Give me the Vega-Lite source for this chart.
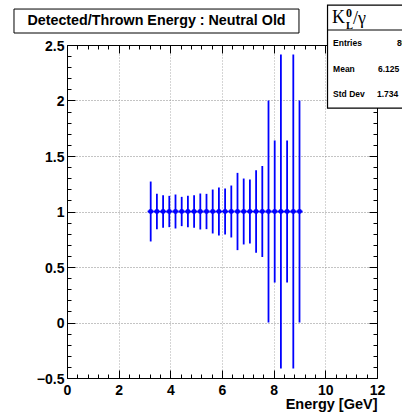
{
  "$schema": "https://vega.github.io/schema/vega-lite/v6.json",
  "width": 310,
  "height": 333,
  "autosize": {"type": "none"},
  "padding": {"left": 67, "top": 45, "right": 25, "bottom": 36},
  "background": "white",
  "config": {"view": {"stroke": null}},
  "data": {"values": [
    {"e": 3.24, "r": 1, "err": 0.27, "dx": 0.12},
    {"e": 3.48, "r": 1, "err": 0.16, "dx": 0.12},
    {"e": 3.72, "r": 1, "err": 0.147, "dx": 0.12},
    {"e": 3.96, "r": 1, "err": 0.141, "dx": 0.12},
    {"e": 4.20, "r": 1, "err": 0.153, "dx": 0.12},
    {"e": 4.44, "r": 1, "err": 0.132, "dx": 0.12},
    {"e": 4.68, "r": 1, "err": 0.141, "dx": 0.12},
    {"e": 4.92, "r": 1, "err": 0.147, "dx": 0.12},
    {"e": 5.16, "r": 1, "err": 0.162, "dx": 0.12},
    {"e": 5.40, "r": 1, "err": 0.159, "dx": 0.12},
    {"e": 5.64, "r": 1, "err": 0.198, "dx": 0.12},
    {"e": 5.88, "r": 1, "err": 0.216, "dx": 0.12},
    {"e": 6.12, "r": 1, "err": 0.207, "dx": 0.12},
    {"e": 6.36, "r": 1, "err": 0.234, "dx": 0.12},
    {"e": 6.60, "r": 1, "err": 0.348, "dx": 0.12},
    {"e": 6.84, "r": 1, "err": 0.297, "dx": 0.12},
    {"e": 7.08, "r": 1, "err": 0.288, "dx": 0.12},
    {"e": 7.32, "r": 1, "err": 0.372, "dx": 0.12},
    {"e": 7.56, "r": 1, "err": 0.41, "dx": 0.12},
    {"e": 7.80, "r": 1, "err": 1.0, "dx": 0.12},
    {"e": 8.04, "r": 1, "err": 0.64, "dx": 0.12},
    {"e": 8.28, "r": 1, "err": 1.414, "dx": 0.12},
    {"e": 8.52, "r": 1, "err": 0.64, "dx": 0.12},
    {"e": 8.76, "r": 1, "err": 1.414, "dx": 0.12},
    {"e": 9.00, "r": 1, "err": 1.0, "dx": 0.12}
  ]},
  "resolve": {"axis": {"x": "independent", "y": "independent"}},
  "layer": [
    {
      "mark": {"type": "errorbar", "ticks": false, "color": "#0000ff", "thickness": 1.8},
      "encoding": {
        "x": {"field": "e", "type": "quantitative", "scale": {"domain": [0, 12], "nice": false, "zero": false}, "axis": null},
        "y": {"field": "r", "type": "quantitative", "scale": {"domain": [-0.5, 2.5], "nice": false, "zero": false}, "axis": null},
        "yError": {"field": "err"}
      }
    },
    {
      "mark": {"type": "errorbar", "ticks": false, "color": "#0000ff", "thickness": 1.8},
      "encoding": {
        "x": {"field": "e", "type": "quantitative", "axis": null},
        "y": {"field": "r", "type": "quantitative", "axis": null},
        "xError": {"field": "dx"}
      }
    },
    {
      "mark": {"type": "point", "shape": "circle", "filled": true, "size": 24, "color": "#0000ff", "opacity": 1},
      "encoding": {
        "x": {"field": "e", "type": "quantitative", "axis": {
          "orient": "bottom", "values": [0, 2, 4, 6, 8, 10, 12], "format": "d",
          "tickSize": -8, "tickColor": "black", "tickWidth": 1,
          "domainColor": "black", "domainWidth": 1, "grid": false,
          "labelFont": "Liberation Sans", "labelFontWeight": "bold", "labelFontSize": 14, "labelColor": "black",
          "labelPadding": 13, "labelFlush": false, "labelOverlap": false,
          "title": "Energy [GeV]", "titleAnchor": "end", "titleFont": "Liberation Sans", "titleFontSize": 14.5,
          "titleFontWeight": "bold", "titleColor": "black", "titlePadding": 0
        }},
        "y": {"field": "r", "type": "quantitative", "axis": {
          "orient": "left", "values": [-0.5, 0, 0.5, 1, 1.5, 2, 2.5], "format": "~g",
          "tickSize": -8, "tickColor": "black", "tickWidth": 1,
          "domainColor": "black", "domainWidth": 1, "grid": false,
          "labelFont": "Liberation Sans", "labelFontWeight": "bold", "labelFontSize": 14, "labelColor": "black",
          "labelPadding": 11, "labelFlush": false, "labelOverlap": false, "labelOffset": 1,
          "title": null
        }}
      }
    },
    {
      "data": {"values": [{}]},
      "mark": {"type": "rect", "fill": "white", "stroke": "black", "strokeWidth": 1},
      "encoding": {
        "x": {"datum": -2.052, "type": "quantitative", "axis": {
          "orient": "bottom", "values": [0.4, 0.8, 1.2, 1.6, 2.4, 2.8, 3.2, 3.6, 4.4, 4.8, 5.2, 5.6, 6.4, 6.8, 7.2, 7.6, 8.4, 8.8, 9.2, 9.6, 10.4, 10.8, 11.2, 11.6],
          "tickSize": -4, "tickColor": "black", "tickWidth": 1, "domain": false, "labels": false, "grid": false, "title": null
        }},
        "x2": {"datum": 8.98},
        "y": {"datum": 2.824, "type": "quantitative", "axis": {
          "orient": "left", "values": [-0.4, -0.3, -0.2, -0.1, 0.1, 0.2, 0.3, 0.4, 0.6, 0.7, 0.8, 0.9, 1.1, 1.2, 1.3, 1.4, 1.6, 1.7, 1.8, 1.9, 2.1, 2.2, 2.3, 2.4],
          "tickSize": -4, "tickColor": "black", "tickWidth": 1, "domain": false, "labels": false, "grid": false, "title": null
        }},
        "y2": {"datum": 2.608}
      }
    },
    {
      "data": {"values": [{}]},
      "mark": {"type": "text", "text": "Detected/Thrown Energy : Neutral Old", "font": "Liberation Sans", "fontWeight": "bold", "fontSize": 14.3, "align": "center", "baseline": "middle", "color": "black"},
      "encoding": {
        "x": {"datum": 3.465, "type": "quantitative", "axis": {
          "orient": "top", "values": [0, 2, 4, 6, 8, 10, 12],
          "tickSize": -8, "tickColor": "black", "tickWidth": 1, "domainColor": "black", "domainWidth": 1, "labels": false, "grid": false, "title": null
        }},
        "y": {"datum": 2.716, "type": "quantitative", "axis": {
          "orient": "right", "values": [-0.5, 0, 0.5, 1, 1.5, 2, 2.5],
          "tickSize": -8, "tickColor": "black", "tickWidth": 1, "domainColor": "black", "domainWidth": 1, "labels": false, "grid": false, "title": null
        }}
      }
    },
    {
      "data": {"values": [{}]},
      "mark": {"type": "rect", "fill": "white", "stroke": "black", "strokeWidth": 1.2},
      "encoding": {
        "x": {"datum": 10.085, "type": "quantitative", "axis": {
          "orient": "top", "values": [0.4, 0.8, 1.2, 1.6, 2.4, 2.8, 3.2, 3.6, 4.4, 4.8, 5.2, 5.6, 6.4, 6.8, 7.2, 7.6, 8.4, 8.8, 9.2, 9.6, 10.4, 10.8, 11.2, 11.6],
          "tickSize": -4, "tickColor": "black", "tickWidth": 1, "domain": false, "labels": false, "grid": false, "title": null
        }},
        "x2": {"datum": 13},
        "y": {"datum": 2.86, "type": "quantitative", "axis": {
          "orient": "right", "values": [-0.4, -0.3, -0.2, -0.1, 0.1, 0.2, 0.3, 0.4, 0.6, 0.7, 0.8, 0.9, 1.1, 1.2, 1.3, 1.4, 1.6, 1.7, 1.8, 1.9, 2.1, 2.2, 2.3, 2.4],
          "tickSize": -4, "tickColor": "black", "tickWidth": 1, "domain": false, "labels": false, "grid": false, "title": null
        }},
        "y2": {"datum": 1.932}
      }
    },
    {
      "data": {"values": [{}]},
      "mark": {"type": "rule", "color": "black", "strokeWidth": 1},
      "encoding": {
        "x": {"datum": 10.085, "type": "quantitative", "axis": {
          "orient": "bottom", "values": [2, 4, 6, 8, 10], "grid": true, "gridColor": "#aaaaaa", "gridDash": [1, 2], "gridWidth": 1,
          "ticks": false, "labels": false, "domain": false, "title": null
        }},
        "x2": {"datum": 13},
        "y": {"datum": 2.635, "type": "quantitative", "axis": {
          "orient": "left", "values": [0, 0.5, 1, 1.5, 2], "grid": true, "gridColor": "#888888", "gridDash": [1, 2], "gridWidth": 1,
          "ticks": false, "labels": false, "domain": false, "title": null
        }}
      }
    },
    {
      "data": {"values": [{}]},
      "mark": {"type": "text", "text": "K", "font": "Liberation Serif", "fontSize": 18, "align": "left", "baseline": "alphabetic", "color": "black"},
      "encoding": {"x": {"datum": 10.26, "type": "quantitative", "axis": null}, "y": {"datum": 2.698, "type": "quantitative", "axis": null}}
    },
    {
      "data": {"values": [{}]},
      "mark": {"type": "text", "text": "0", "font": "Liberation Serif", "fontWeight": "bold", "fontSize": 12, "align": "left", "baseline": "alphabetic", "color": "black"},
      "encoding": {"x": {"datum": 10.8, "type": "quantitative", "axis": null}, "y": {"datum": 2.752, "type": "quantitative", "axis": null}}
    },
    {
      "data": {"values": [{}]},
      "mark": {"type": "text", "text": "L", "font": "Liberation Serif", "fontWeight": "bold", "fontSize": 10.5, "align": "left", "baseline": "alphabetic", "color": "black"},
      "encoding": {"x": {"datum": 10.8, "type": "quantitative", "axis": null}, "y": {"datum": 2.641, "type": "quantitative", "axis": null}}
    },
    {
      "data": {"values": [{}]},
      "mark": {"type": "text", "text": "/γ", "font": "Liberation Serif", "fontSize": 18, "align": "left", "baseline": "alphabetic", "color": "black"},
      "encoding": {"x": {"datum": 11.07, "type": "quantitative", "axis": null}, "y": {"datum": 2.689, "type": "quantitative", "axis": null}}
    },
    {
      "data": {"values": [{}]},
      "mark": {"type": "text", "text": "Entries", "font": "Liberation Sans", "fontWeight": "bold", "fontSize": 8.5, "align": "left", "baseline": "middle", "color": "black"},
      "encoding": {"x": {"datum": 10.3, "type": "quantitative", "axis": null}, "y": {"datum": 2.514, "type": "quantitative", "axis": null}}
    },
    {
      "data": {"values": [{}]},
      "mark": {"type": "text", "text": "80", "font": "Liberation Sans", "fontWeight": "bold", "fontSize": 8.5, "align": "left", "baseline": "middle", "color": "black"},
      "encoding": {"x": {"datum": 12.77, "type": "quantitative", "axis": null}, "y": {"datum": 2.514, "type": "quantitative", "axis": null}}
    },
    {
      "data": {"values": [{}]},
      "mark": {"type": "text", "text": "Mean", "font": "Liberation Sans", "fontWeight": "bold", "fontSize": 8.5, "align": "left", "baseline": "middle", "color": "black"},
      "encoding": {"x": {"datum": 10.3, "type": "quantitative", "axis": null}, "y": {"datum": 2.288, "type": "quantitative", "axis": null}}
    },
    {
      "data": {"values": [{}]},
      "mark": {"type": "text", "text": "6.125", "font": "Liberation Sans", "fontWeight": "bold", "fontSize": 8.5, "align": "left", "baseline": "middle", "color": "black"},
      "encoding": {"x": {"datum": 12.04, "type": "quantitative", "axis": null}, "y": {"datum": 2.288, "type": "quantitative", "axis": null}}
    },
    {
      "data": {"values": [{}]},
      "mark": {"type": "text", "text": "Std Dev", "font": "Liberation Sans", "fontWeight": "bold", "fontSize": 8.5, "align": "left", "baseline": "middle", "color": "black"},
      "encoding": {"x": {"datum": 10.3, "type": "quantitative", "axis": null}, "y": {"datum": 2.063, "type": "quantitative", "axis": null}}
    },
    {
      "data": {"values": [{}]},
      "mark": {"type": "text", "text": "1.734", "font": "Liberation Sans", "fontWeight": "bold", "fontSize": 8.5, "align": "left", "baseline": "middle", "color": "black"},
      "encoding": {"x": {"datum": 12.0, "type": "quantitative", "axis": null}, "y": {"datum": 2.063, "type": "quantitative", "axis": null}}
    }
  ]
}
